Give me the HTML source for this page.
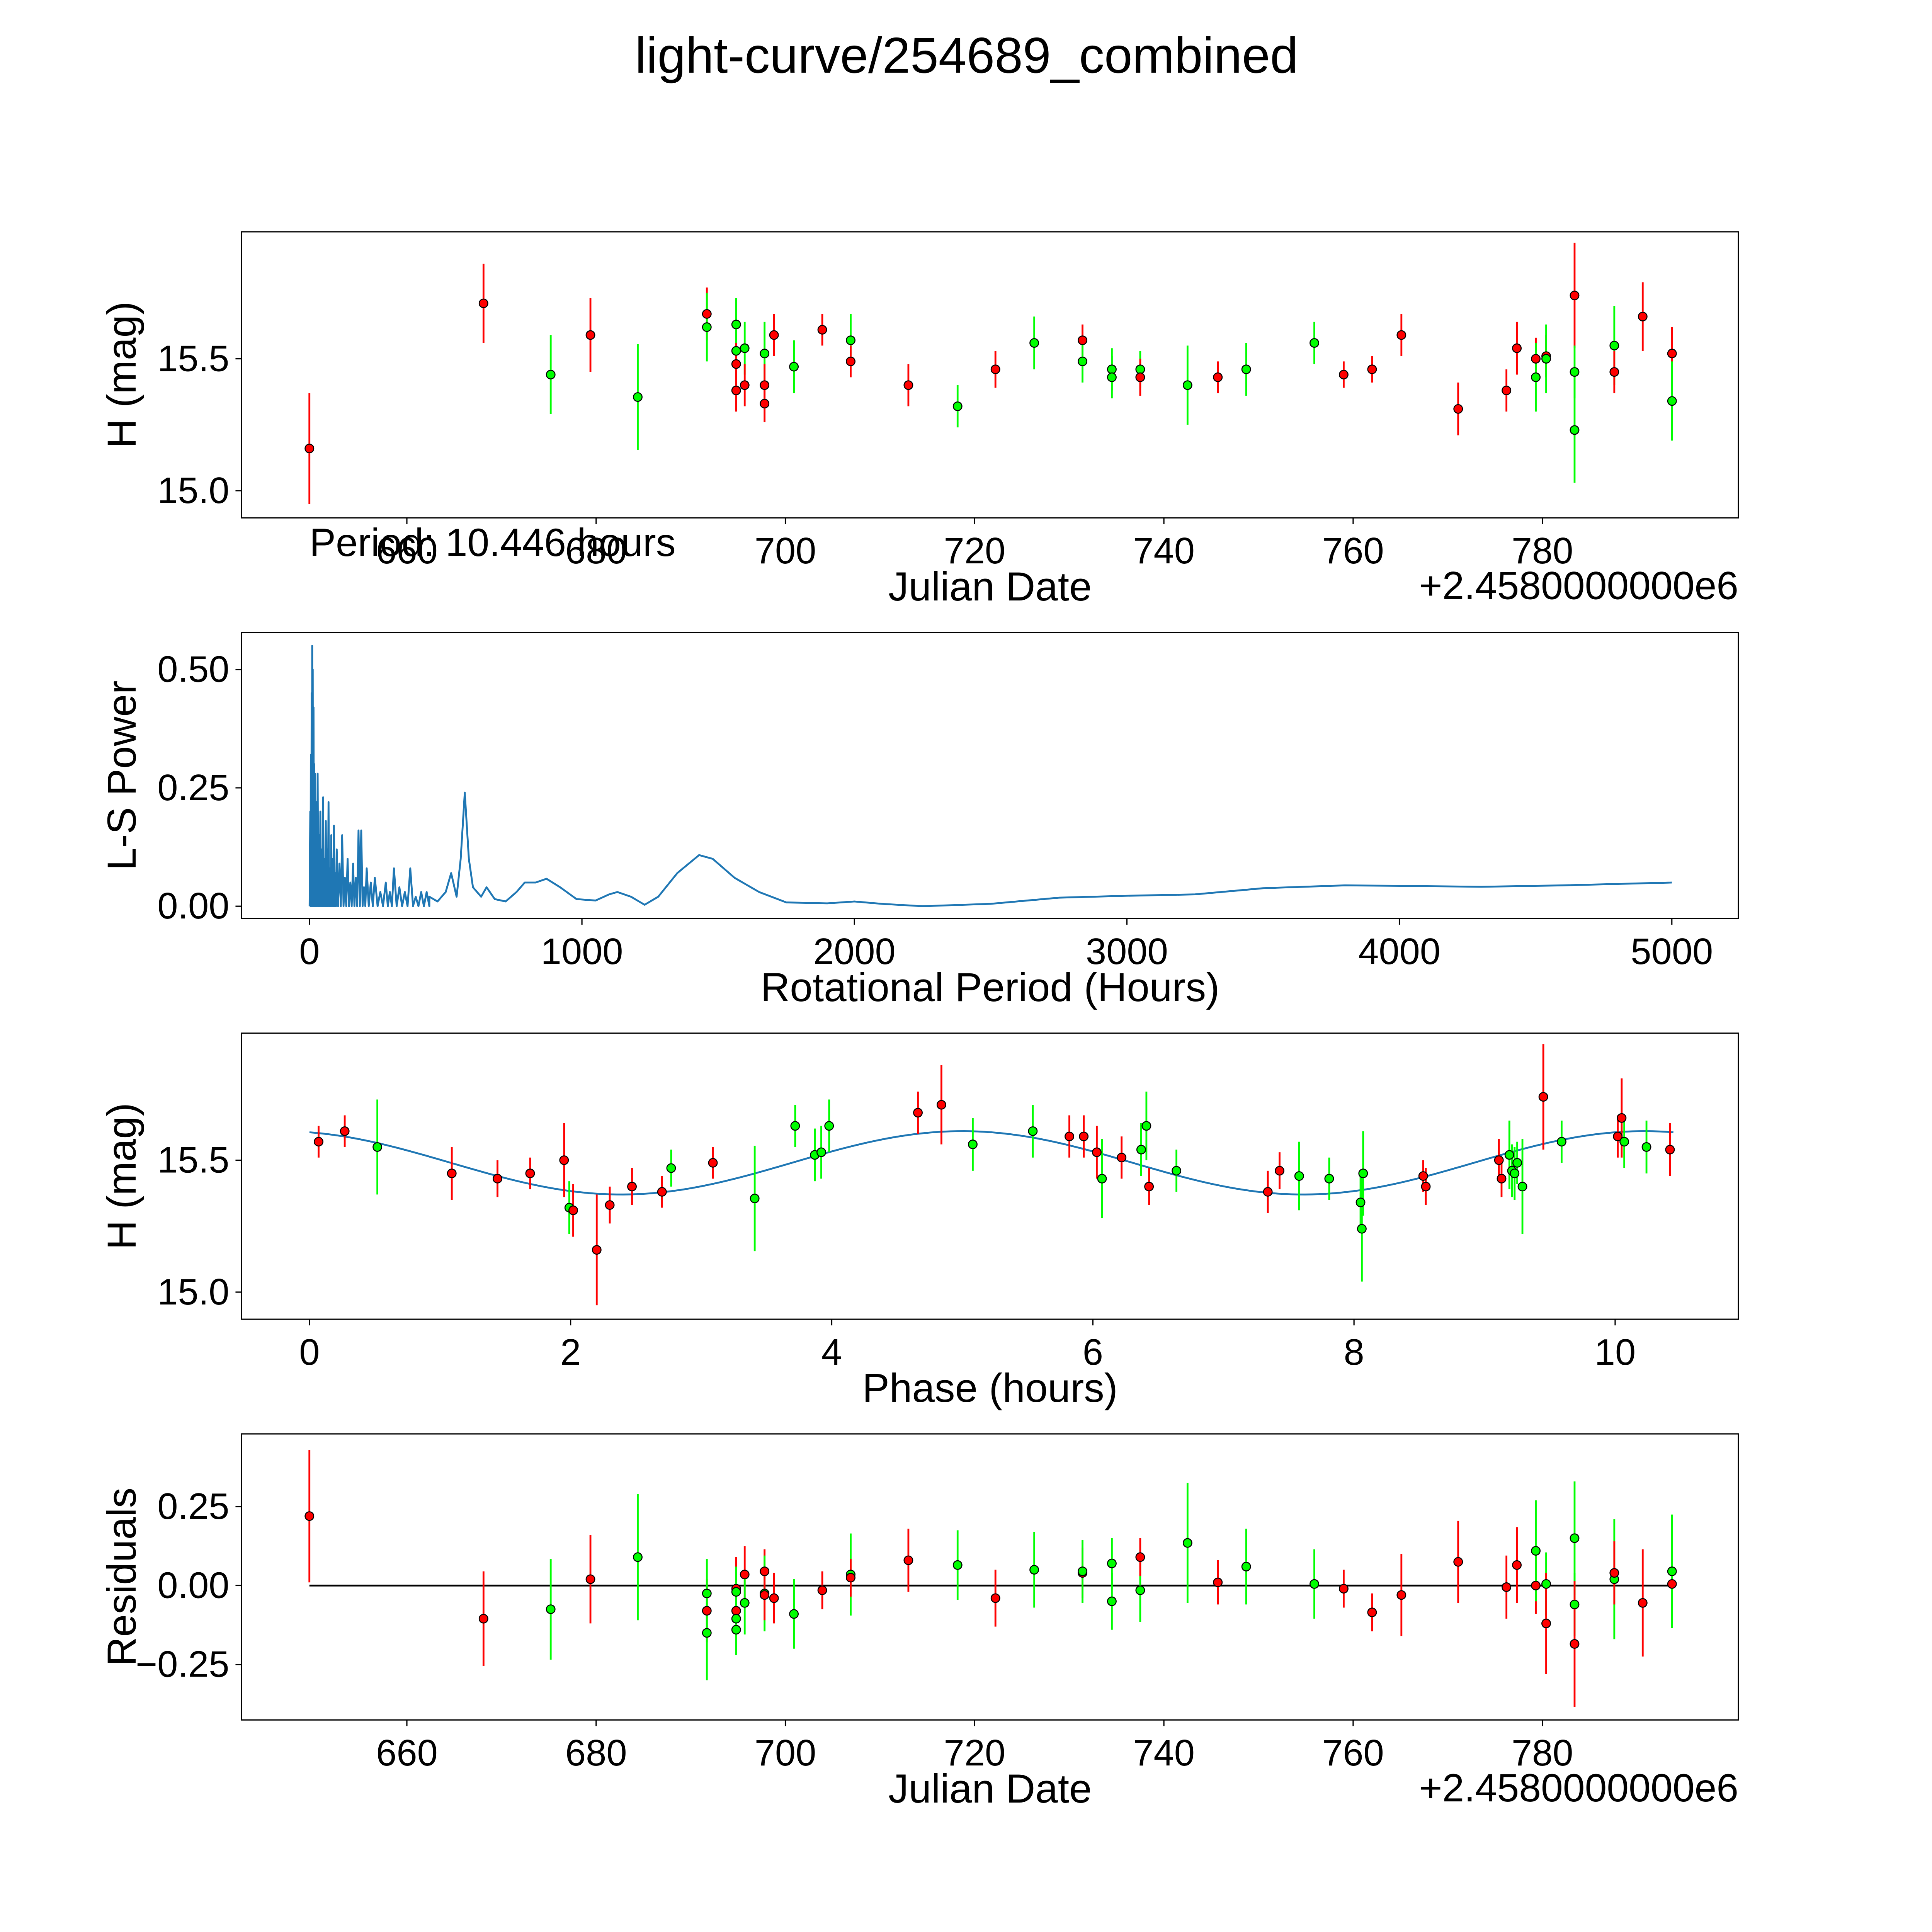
<!DOCTYPE html>
<html><head><meta charset="utf-8"><style>
html,body{margin:0;padding:0;background:#fff;overflow:hidden;width:100vw;height:100vh;}
svg{display:block;position:absolute;left:0;top:0;width:100vw;height:100vh;font-family:"Liberation Sans","DejaVu Sans",sans-serif;}
</style></head><body>
<svg id="fig" viewBox="0 0 1567 1567" preserveAspectRatio="none" xmlns="http://www.w3.org/2000/svg">
<rect width="1567" height="1567" fill="#fff"/>
<text x="784" y="59" font-size="41" text-anchor="middle">light-curve/254689_combined</text>
</svg>
<script>
// ---- Panel 1: raw light curve ----
const lcDates=[649.7,668.1,675.2,679.4,684.4,691.7,691.7,694.8,694.8,694.8,694.8,695.7,695.7,697.8,697.8,697.8,698.8,700.9,703.9,706.9,706.9,713.0,718.2,722.2,726.3,731.4,731.4,734.5,734.5,737.5,737.5,742.5,745.7,748.7,755.9,759.0,762.0,765.1,771.1,776.2,777.3,779.3,779.3,780.4,780.4,783.4,783.4,783.4,787.6,787.6,790.6,793.7,793.7];
const lcMags=[15.16,15.71,15.44,15.59,15.355,15.67,15.62,15.63,15.53,15.48,15.38,15.54,15.40,15.52,15.40,15.33,15.59,15.47,15.61,15.57,15.49,15.40,15.32,15.46,15.56,15.57,15.49,15.46,15.43,15.46,15.43,15.40,15.43,15.46,15.56,15.44,15.46,15.59,15.31,15.38,15.54,15.50,15.43,15.51,15.50,15.74,15.45,15.23,15.55,15.45,15.66,15.52,15.34];
const lcErrs=[0.21,0.15,0.15,0.14,0.2,0.1,0.13,0.1,0.1,0.08,0.08,0.1,0.08,0.12,0.08,0.07,0.08,0.1,0.06,0.1,0.06,0.08,0.08,0.07,0.1,0.06,0.08,0.08,0.08,0.07,0.07,0.15,0.06,0.1,0.08,0.05,0.05,0.08,0.1,0.08,0.1,0.08,0.13,0.08,0.13,0.2,0.1,0.2,0.15,0.08,0.13,0.1,0.15];
const lcColors=['r','r','g','r','g','r','g','g','g','r','r','g','r','g','r','r','r','g','r','g','r','r','g','r','g','r','g','g','g','g','r','g','r','g','g','r','r','r','r','r','r','r','g','r','g','r','g','g','g','r','r','r','g'];
// ---- Panel 2: periodogram ----
const spikePeriods=[3,5,8,10,12,15,18,20,25,30,35,40,45,50,55,60,65,70,75,80,85,90,95,100,110,120,130,140,150,160,170,180,190,200,210,225,240,260,280,295,310,330,350,370,390,410,430];
const spikePowers=[0.2,0.32,0.45,0.55,0.5,0.42,0.3,0.28,0.22,0.28,0.15,0.2,0.12,0.23,0.1,0.18,0.12,0.22,0.08,0.15,0.1,0.17,0.07,0.12,0.09,0.15,0.06,0.1,0.05,0.09,0.06,0.16,0.16,0.04,0.08,0.05,0.06,0.03,0.05,0.03,0.08,0.04,0.03,0.08,0.02,0.03,0.03];
const lsPeriods=[440,470,500,520,540,555,570,585,600,630,650,680,720,760,790,830,870,920,980,1050,1100,1130,1180,1230,1280,1350,1430,1480,1560,1650,1750,1900,2000,2100,2250,2500,2750,3000,3250,3500,3800,4000,4300,4600,5000];
const lsPowers=[0.02,0.01,0.03,0.07,0.02,0.1,0.24,0.1,0.04,0.02,0.04,0.015,0.01,0.03,0.05,0.05,0.058,0.04,0.015,0.012,0.025,0.03,0.02,0.003,0.02,0.07,0.108,0.1,0.06,0.03,0.008,0.006,0.01,0.005,0.0,0.005,0.018,0.022,0.025,0.038,0.044,0.043,0.041,0.044,0.05];
// ---- Panel 3: phased curve ----
const phHours=[0.07,0.27,0.52,1.09,1.44,1.69,1.95,1.99,2.02,2.2,2.3,2.47,2.7,2.77,3.09,3.41,3.72,3.87,3.92,3.98,4.66,4.84,5.08,5.54,5.82,5.93,6.03,6.07,6.22,6.37,6.41,6.43,6.64,7.34,7.43,7.58,7.81,8.05,8.06,8.07,8.53,8.55,9.11,9.13,9.19,9.21,9.23,9.25,9.29,9.45,9.59,10.02,10.05,10.07,10.24,10.42];
const phMags=[15.57,15.61,15.55,15.45,15.43,15.45,15.50,15.32,15.31,15.16,15.33,15.40,15.38,15.47,15.49,15.355,15.63,15.52,15.53,15.63,15.68,15.71,15.56,15.61,15.59,15.59,15.53,15.43,15.51,15.54,15.63,15.40,15.46,15.38,15.46,15.44,15.43,15.34,15.24,15.45,15.44,15.40,15.50,15.43,15.52,15.46,15.45,15.49,15.40,15.74,15.57,15.59,15.66,15.57,15.55,15.54];
const phErrs=[0.06,0.06,0.18,0.1,0.07,0.06,0.14,0.1,0.1,0.21,0.07,0.07,0.06,0.07,0.06,0.2,0.08,0.1,0.1,0.1,0.08,0.15,0.1,0.1,0.08,0.08,0.1,0.15,0.08,0.1,0.13,0.07,0.08,0.08,0.07,0.13,0.08,0.1,0.2,0.16,0.06,0.07,0.08,0.07,0.13,0.1,0.1,0.08,0.18,0.2,0.08,0.08,0.15,0.1,0.1,0.1];
const phColors=['r','r','g','r','r','r','r','g','r','r','r','r','r','g','r','g','g','g','g','g','r','r','g','g','r','r','r','g','r','g','g','r','g','r','r','g','g','g','g','g','r','r','r','r','g','g','g','g','g','r','g','r','r','g','g','r'];
const modelMean=15.49, modelAmp=0.12, period=10.446, peakPhase=5.0;
// ---- Panel 4: residuals ----
const resDates=[649.7,668.1,675.2,679.4,684.4,691.7,691.7,691.7,694.8,694.8,694.8,694.8,694.8,695.7,695.7,697.8,697.8,697.8,698.8,700.9,703.9,706.9,706.9,713.0,718.2,722.2,726.3,731.4,731.4,734.5,734.5,737.5,737.5,742.5,745.7,748.7,755.9,759.0,762.0,765.1,771.1,776.2,777.3,779.3,779.3,780.4,780.4,783.4,783.4,783.4,787.6,787.6,790.6,793.7,793.7];
const resVals=[0.22,-0.105,-0.075,0.02,0.09,-0.08,-0.025,-0.15,-0.01,-0.02,-0.08,-0.105,-0.14,0.035,-0.055,0.045,-0.025,-0.03,-0.04,-0.09,-0.015,0.035,0.025,0.08,0.065,-0.04,0.05,0.04,0.045,0.07,-0.05,-0.015,0.09,0.135,0.01,0.06,0.005,-0.01,-0.085,-0.03,0.075,-0.005,0.065,0,0.11,0.005,-0.12,0.15,-0.06,-0.185,0.02,0.04,-0.055,0.005,0.045];
const resErrs=[0.21,0.15,0.16,0.14,0.2,0.1,0.11,0.15,0.1,0.08,0.08,0.1,0.08,0.09,0.1,0.07,0.12,0.08,0.08,0.11,0.06,0.13,0.06,0.1,0.11,0.09,0.12,0.08,0.1,0.08,0.09,0.1,0.06,0.19,0.07,0.12,0.11,0.06,0.06,0.13,0.13,0.1,0.12,0.09,0.16,0.1,0.16,0.18,0.1,0.2,0.19,0.1,0.17,0.14,0.18];
const resColors=['r','r','g','r','g','r','g','g','r','g','r','g','g','r','g','r','g','r','r','g','r','g','r','r','g','r','g','r','g','g','g','g','r','g','r','g','g','r','r','r','r','r','r','r','g','g','r','g','g','r','g','r','r','r','g'];

const NS='http://www.w3.org/2000/svg';
const svg=document.getElementById('fig');
function mk(tag,attrs,parent){const e=document.createElementNS(NS,tag);for(const k in attrs)e.setAttribute(k,attrs[k]);(parent||svg).appendChild(e);return e;}
function txt(s,attrs,parent){const e=mk('text',attrs,parent);e.textContent=s;return e;}
const COL={r:'#ff0000',g:'#00ff00'};

function axes(name,x0,y0,x1,y1,xs,xticks,xfmt,ys,yticks,yfmt,xlabel,ylabel){
  const g=mk('g',{});
  
  
  xticks.forEach(t=>{const x=xs(t);
    mk('line',{x1:x,x2:x,y1:y1,y2:y1+5,stroke:'#000','stroke-width':1},g);
    const l=txt(xfmt(t),{x:x,y:y1+37,'font-size':30,'text-anchor':'middle'},g);
    
    });
  yticks.forEach(t=>{const y=ys(t);
    mk('line',{x1:x0-5,x2:x0,y1:y,y2:y,stroke:'#000','stroke-width':1},g);
    const l=txt(yfmt(t),{x:x0-10,y:y+10,'font-size':30,'text-anchor':'end'},g);
    
    });
  const xl=txt(xlabel,{x:(x0+x1)/2,y:y1+67,'font-size':33,'text-anchor':'middle'},g);
  
  
  const yl=txt(ylabel,{x:0,y:0,'font-size':33,'text-anchor':'middle',transform:`translate(${x0-86},${(y0+y1)/2}) rotate(-90)`},g);
  
  
  return g;
}
function frame(g,x0,y0,x1,y1){mk('rect',{x:x0,y:y0,width:x1-x0,height:y1-y0,fill:'none',stroke:'#000','stroke-width':1},g);}
function points(g,xsArr,ysArr,errArr,colArr,xs,ys){
  for(let i=0;i<xsArr.length;i++){const x=xs(xsArr[i]);
    const b=mk('line',{x1:x,x2:x,y1:ys(ysArr[i]-errArr[i]),y2:ys(ysArr[i]+errArr[i]),stroke:COL[colArr[i]],'stroke-width':1.5},g);
    
    }
  for(let i=0;i<xsArr.length;i++){
    const c=mk('circle',{cx:xs(xsArr[i]),cy:ys(ysArr[i]),r:3.5,fill:COL[colArr[i]],stroke:'#000','stroke-width':0.8},g);
    
    }
}
const jdX=d=>330+(d-660)*7.675;
const jdTicks=[660,680,700,720,740,760,780];
const magTicks=[15.0,15.5];
const f1=v=>v.toFixed(1);

// Panel 1
{const ys=m=>291-(m-15.5)*214;
 const g=axes('light-curve-panel',196,188,1410,420,jdX,jdTicks,String,ys,magTicks,f1,'Julian Date','H (mag)');
 points(g,lcDates,lcMags,lcErrs,lcColors,jdX,ys);
 frame(g,196,188,1410,420);
 const o=txt('+2.4580000000e6',{x:1410,y:486,'font-size':32,'text-anchor':'end'},g);
 
 
 const p=txt('Period: 10.446 hours',{x:251,y:451,'font-size':32},g);
 
 }

// Panel 2
{const xs=h=>251+h*0.221, ys=v=>735-v*384;
 const g=axes('periodogram-panel',196,513,1410,745,xs,[0,1000,2000,3000,4000,5000],String,ys,[0,0.25,0.5],v=>v.toFixed(2),'Rotational Period (Hours)','L-S Power');
 let pts=[[0.5,0]];
 for(let i=0;i<spikePeriods.length;i++){
   const p=spikePeriods[i],d=i<spikePeriods.length-1?(spikePeriods[i+1]-p)/2:10;
   pts.push([p,spikePowers[i]]);pts.push([p+d,0]);}
 for(let i=0;i<lsPeriods.length;i++)pts.push([lsPeriods[i],lsPowers[i]]);
 let d='';pts.forEach((q,i)=>{d+=(i?'L':'M')+xs(q[0]).toFixed(2)+' '+ys(q[1]).toFixed(2);});
 const l=mk('path',{d:d,fill:'none',stroke:'#1f77b4','stroke-width':1.5,'stroke-linejoin':'round'},g);
 
 
 frame(g,196,513,1410,745);}

// Panel 3
{const xs=p=>251+p*105.9, ys=m=>941-(m-15.5)*214;
 const g=axes('phased-curve-panel',196,838,1410,1070,xs,[0,2,4,6,8,10],String,ys,magTicks,f1,'Phase (hours)','H (mag)');
 let d='';for(let i=0;i<=200;i++){const p=period*i/200;const m=modelMean+modelAmp*Math.cos(4*Math.PI*(p-peakPhase)/period);
   d+=(i?'L':'M')+xs(p).toFixed(2)+' '+ys(m).toFixed(2);}
 const l=mk('path',{d:d,fill:'none',stroke:'#1f77b4','stroke-width':1.5},g);
 
 
 points(g,phHours,phMags,phErrs,phColors,xs,ys);
 frame(g,196,838,1410,1070);}

// Panel 4
{const ys=v=>1286-v*256;
 const g=axes('residuals-panel',196,1163,1410,1395,jdX,jdTicks,String,ys,[-0.25,0,0.25],v=>(v<0?'\u2212'+(-v).toFixed(2):v.toFixed(2)),'Julian Date','Residuals');
 const z=mk('line',{x1:jdX(resDates[0]),x2:jdX(resDates[resDates.length-1]),y1:ys(0),y2:ys(0),stroke:'#000','stroke-width':1.5},g);
 
 
 points(g,resDates,resVals,resErrs,resColors,jdX,ys);
 frame(g,196,1163,1410,1395);
 const o=txt('+2.4580000000e6',{x:1410,y:1461,'font-size':32,'text-anchor':'end'},g);
 
 }
</script>
</body></html>
